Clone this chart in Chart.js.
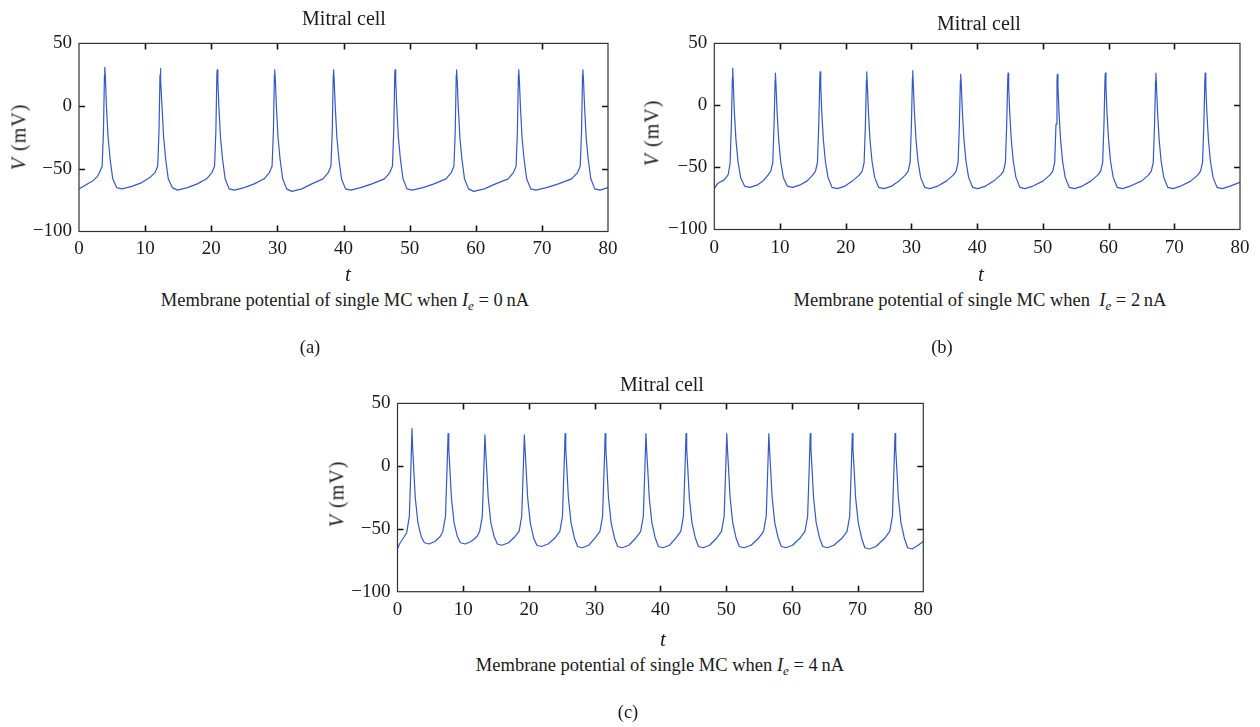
<!DOCTYPE html>
<html lang="en">
<head>
    <meta charset="UTF-8">
    <title>Mitral cell membrane potential</title>
    <style>
        body {
            margin: 0;
            padding: 0;
            width: 1260px;
            height: 727px;
            background: #fff;
            position: relative;
            overflow: hidden;
            font-family: "Liberation Serif", "DejaVu Serif", serif;
            color: #1a1a1a;
        }
        .box { position: absolute; }
        .lbl {
            position: absolute;
            transform: translate(-50%, -50%);
            white-space: nowrap;
            font-size: 18.5px;
        }
        .ttl { font-size: 20px; }
        .ylab { transform: translate(-50%, -50%) rotate(-90deg); font-size: 20px; letter-spacing: 1px; }
        .tt { font-style: italic; font-size: 21px; }
        sub { font-size: 13px; vertical-align: -4px; }
    </style>
</head>
<body>
    <!-- panel (a) -->
    <div class="box" style="left:0px; top:25px; width:625px; height:245px;"><canvas id="chartA"></canvas></div>
    <div class="lbl ttl" style="left:344px; top:18px;">Mitral cell</div>
    <div class="lbl ylab" style="left:19px; top:137px;"><i>V</i> (mV)</div>
    <div class="lbl tt" style="left:348px; top:274px;">t</div>
    <div class="lbl" style="left:345px; top:302px;">Membrane potential of single MC when <i>I</i><sub><i>e</i></sub> = 0&thinsp;nA</div>
    <div class="lbl" style="left:310px; top:347px;">(a)</div>

    <!-- panel (b) -->
    <div class="box" style="left:640px; top:25px; width:620px; height:245px;"><canvas id="chartB"></canvas></div>
    <div class="lbl ttl" style="left:979px; top:23px;">Mitral cell</div>
    <div class="lbl ylab" style="left:652px; top:133px;"><i>V</i> (mV)</div>
    <div class="lbl tt" style="left:981px; top:274px;">t</div>
    <div class="lbl" style="left:980px; top:302px;">Membrane potential of single MC when&nbsp; <i>I</i><sub><i>e</i></sub> = 2&thinsp;nA</div>
    <div class="lbl" style="left:942px; top:347px;">(b)</div>

    <!-- panel (c) -->
    <div class="box" style="left:320px; top:385px; width:640px; height:245px;"><canvas id="chartC"></canvas></div>
    <div class="lbl ttl" style="left:662px; top:384px;">Mitral cell</div>
    <div class="lbl ylab" style="left:337px; top:494px;"><i>V</i> (mV)</div>
    <div class="lbl tt" style="left:663px; top:639px;">t</div>
    <div class="lbl" style="left:660px; top:667px;">Membrane potential of single MC when <i>I</i><sub><i>e</i></sub> = 4&thinsp;nA</div>
    <div class="lbl" style="left:628px; top:712px;">(c)</div>

    <script src="https://cdn.jsdelivr.net/npm/chart.js"></script>
    <script>
        // tick labels shared by all three panels
        var xTicks = [0, 10, 20, 30, 40, 50, 60, 70, 80];
        var yTicks = [-100, -50, 0, 50];

        // (a) Ie = 0 nA
        var timeA = [0, 1, 2, 2.8, 3.1, 3.5, 3.7, 3.85, 3.9, 4.0, 4.15, 4.4, 4.7, 5.1, 5.7, 6.5, 8, 9.5, 10.7, 11.5, 11.9, 12.1, 12.25, 12.3, 12.4, 12.55, 12.8, 13.1, 13.5, 14.1, 14.9, 16.4, 17.9, 19.3, 20.1, 20.5, 20.7, 20.85, 20.9, 21.0, 21.15, 21.4, 21.7, 22.1, 22.7, 23.5, 25, 26.5, 28, 28.8, 29.2, 29.4, 29.55, 29.6, 29.7, 29.85, 30.1, 30.4, 30.8, 31.4, 32.2, 33.7, 35.2, 36.9, 37.7, 38.1, 38.3, 38.45, 38.5, 38.6, 38.75, 39, 39.3, 39.7, 40.3, 41.1, 42.6, 44.3, 46.2, 47, 47.4, 47.6, 47.75, 47.8, 47.9, 48.05, 48.3, 48.6, 49, 49.6, 50.4, 52, 53.7, 55.5, 56.3, 56.7, 56.9, 57.05, 57.1, 57.2, 57.35, 57.6, 57.9, 58.3, 58.9, 59.7, 61.3, 63, 64.9, 65.7, 66.1, 66.3, 66.45, 66.5, 66.6, 66.75, 67, 67.3, 67.7, 68.3, 69.1, 70.7, 72.5, 74.5, 75.4, 75.8, 76, 76.15, 76.2, 76.3, 76.45, 76.7, 77, 77.4, 78, 78.8, 80];
        var voltA = [-66, -63, -60, -56, -53, -48, -20, 25, 31, 22, 0, -25, -42, -58, -65, -66, -64, -61, -57, -53, -48, -20, 25, 30, 20, 0, -25, -42, -58, -65, -67, -65, -62, -58, -53, -48, -20, 25, 29, 20, 0, -25, -42, -58, -66, -67, -65, -62, -58, -53, -48, -20, 25, 29, 20, 0, -25, -42, -58, -66, -68, -66, -62, -58, -53, -48, -20, 25, 29, 20, 0, -25, -42, -58, -66, -67, -65, -62, -58, -53, -48, -20, 25, 29, 20, 0, -25, -42, -58, -66, -67, -65, -62, -58, -53, -48, -20, 25, 29, 20, 0, -25, -42, -58, -66, -68, -66, -62, -58, -53, -48, -20, 25, 29, 20, 0, -25, -42, -58, -66, -67, -65, -62, -58, -53, -48, -20, 25, 29, 20, 0, -25, -42, -58, -66, -67, -65];

        // (b) Ie = 2 nA
        var timeB = [0, 0.5, 1.5, 2.1, 2.4, 2.6, 2.75, 2.8, 2.9, 3.05, 3.3, 3.6, 4, 4.6, 5.4, 6.6, 7.4, 8.2, 8.6, 8.9, 9.1, 9.25, 9.3, 9.4, 9.55, 9.8, 10.1, 10.5, 11.1, 11.9, 13.1, 14.1, 15, 15.4, 15.7, 15.9, 16.05, 16.1, 16.2, 16.35, 16.6, 16.9, 17.3, 17.9, 18.7, 19.9, 21, 22.1, 22.5, 22.8, 23, 23.15, 23.2, 23.3, 23.45, 23.7, 24, 24.4, 25, 25.8, 27, 28.1, 29.1, 29.5, 29.8, 30, 30.15, 30.2, 30.3, 30.45, 30.7, 31, 31.4, 32, 32.8, 34, 35.3, 36.4, 36.8, 37.1, 37.3, 37.45, 37.5, 37.6, 37.75, 38, 38.3, 38.7, 39.3, 40.1, 41.3, 42.5, 43.6, 44, 44.3, 44.5, 44.65, 44.7, 44.8, 44.95, 45.2, 45.5, 45.9, 46.5, 47.3, 48.5, 50, 51.1, 51.5, 51.8, 52, 52.15, 52.2, 52.3, 52.45, 52.7, 53, 53.4, 54, 54.8, 56, 57.3, 58.4, 58.8, 59.1, 59.3, 59.45, 59.5, 59.6, 59.75, 60, 60.3, 60.7, 61.3, 62.1, 63.3, 65, 66.1, 66.5, 66.8, 67, 67.15, 67.2, 67.3, 67.45, 67.7, 68, 68.4, 69, 69.8, 71, 72.5, 73.6, 74, 74.3, 74.5, 74.65, 74.7, 74.8, 74.95, 75.2, 75.5, 75.9, 76.5, 77.3, 78.5, 80];
        var voltB = [-67, -63, -60, -56, -47, -15, 22, 30, 17, -5, -28, -45, -58, -65, -66, -64, -61, -56, -53, -46, -15, 20, 26, 15, -5, -28, -45, -58, -65, -66, -64, -61, -56, -53, -46, -15, 20, 27, 15, -5, -28, -45, -58, -66, -67, -65, -61, -56, -53, -46, -15, 20, 27, 15, -5, -28, -45, -58, -66, -67, -65, -61, -56, -53, -46, -15, 22, 28, 15, -5, -28, -45, -58, -66, -67, -65, -61, -56, -53, -46, -15, 20, 25, 15, -5, -28, -45, -58, -66, -67, -65, -61, -56, -53, -46, -15, 20, 26, 15, -5, -28, -45, -58, -66, -67, -65, -61, -56, -53, -46, -15, 20, 25, 15, -5, -28, -45, -58, -66, -67, -65, -61, -56, -53, -46, -15, 20, 26, 15, -5, -28, -45, -58, -66, -67, -65, -61, -56, -53, -46, -15, 20, 26, 15, -5, -28, -45, -58, -66, -67, -65, -61, -56, -53, -46, -15, 20, 26, 15, -5, -28, -45, -58, -66, -67, -65, -62];

        // (c) Ie = 4 nA
        var timeC = [0, 0.3, 0.8, 1.4, 1.8, 2.05, 2.2, 2.3, 2.5, 2.7, 3.1, 3.6, 4.1, 4.8, 5.7, 6.5, 6.9, 7.3, 7.55, 7.7, 7.8, 8, 8.2, 8.6, 9.1, 9.6, 10.3, 11.2, 12.1, 12.5, 12.9, 13.15, 13.3, 13.4, 13.6, 13.8, 14.2, 14.7, 15.2, 15.9, 16.9, 17.9, 18.5, 18.9, 19.15, 19.3, 19.4, 19.6, 19.8, 20.2, 20.7, 21.2, 21.9, 22.9, 24, 24.7, 25.1, 25.35, 25.5, 25.6, 25.8, 26, 26.4, 26.9, 27.4, 28.1, 29.1, 30.1, 30.8, 31.2, 31.45, 31.6, 31.7, 31.9, 32.1, 32.5, 33, 33.5, 34.2, 35.2, 36.3, 37, 37.4, 37.65, 37.8, 37.9, 38.1, 38.3, 38.7, 39.2, 39.7, 40.4, 41.4, 42.4, 43.1, 43.5, 43.75, 43.9, 44, 44.2, 44.4, 44.8, 45.3, 45.8, 46.5, 47.5, 48.6, 49.3, 49.7, 49.95, 50.1, 50.2, 50.4, 50.6, 51, 51.5, 52, 52.7, 53.8, 55, 55.7, 56.1, 56.35, 56.5, 56.6, 56.8, 57, 57.4, 57.9, 58.4, 59.1, 60.1, 61.3, 62, 62.4, 62.65, 62.8, 62.9, 63.1, 63.3, 63.7, 64.2, 64.7, 65.4, 66.4, 67.7, 68.4, 68.8, 69.05, 69.2, 69.3, 69.5, 69.7, 70.1, 70.6, 71.1, 71.8, 72.8, 74.2, 74.9, 75.3, 75.55, 75.7, 75.8, 76, 76.2, 76.6, 77.1, 77.6, 78.3, 79.2, 80];
        var voltC = [-66, -62, -58, -53, -40, 0, 30, 15, -5, -25, -45, -56, -61, -62, -60, -56, -52, -40, 0, 26, 14, -5, -25, -45, -56, -61, -62, -60, -56, -52, -40, 0, 25, 14, -5, -25, -45, -56, -62, -63, -61, -56, -52, -40, 0, 25, 14, -5, -25, -45, -57, -63, -64, -62, -57, -52, -40, 0, 26, 14, -5, -25, -45, -57, -64, -65, -63, -57, -52, -40, 0, 26, 14, -5, -25, -45, -57, -64, -65, -63, -57, -52, -40, 0, 26, 14, -5, -25, -45, -57, -64, -65, -63, -57, -52, -40, 0, 26, 14, -5, -25, -45, -57, -64, -65, -63, -57, -52, -40, 0, 26, 14, -5, -25, -45, -57, -64, -65, -63, -57, -52, -40, 0, 26, 14, -5, -25, -45, -57, -64, -65, -63, -57, -52, -40, 0, 26, 14, -5, -25, -45, -57, -64, -65, -63, -57, -52, -40, 0, 26, 14, -5, -25, -45, -57, -65, -66, -64, -57, -52, -40, 0, 26, 14, -5, -25, -45, -57, -65, -66, -63, -60];

        var serif = '"Liberation Serif", "DejaVu Serif", serif';

        // box border plus inward tick marks on all four sides (MATLAB style)
        var boxTicks = {
            id: 'boxTicks',
            afterDraw: function(chart) {
                var ctx = chart.ctx, a = chart.chartArea;
                var xs = chart.scales.x, ys = chart.scales.y;
                ctx.save();
                ctx.strokeStyle = '#111';
                ctx.lineWidth = 1.6;
                ctx.beginPath();
                xTicks.slice(1, -1).forEach(function(v) {
                    var px = Math.round(xs.getPixelForValue(v)) + 0.5;
                    ctx.moveTo(px, a.bottom); ctx.lineTo(px, a.bottom - 6);
                    ctx.moveTo(px, a.top); ctx.lineTo(px, a.top + 6);
                });
                yTicks.slice(1, -1).forEach(function(v) {
                    var py = Math.round(ys.getPixelForValue(v)) + 0.5;
                    ctx.moveTo(a.left, py); ctx.lineTo(a.left + 6, py);
                    ctx.moveTo(a.right, py); ctx.lineTo(a.right - 6, py);
                });
                ctx.stroke();
                ctx.strokeStyle = '#333';
                ctx.lineWidth = 1.2;
                ctx.strokeRect(a.left, a.top, a.right - a.left, a.bottom - a.top);
                ctx.restore();
            }
        };

        function makeChart(id, times, volts, lay) {
            var ctx = document.getElementById(id).getContext('2d');
            return new Chart(ctx, {
                type: 'line',
                data: {
                    datasets: [{
                        data: times.map(function(t, i) { return { x: t, y: volts[i] }; }),
                        borderColor: '#3558c4',
                        borderWidth: 1.2,
                        borderJoinStyle: 'round',
                        pointRadius: 0,
                        tension: 0,
                        fill: false
                    }]
                },
                options: {
                    responsive: true,
                    maintainAspectRatio: false,
                    devicePixelRatio: 1,
                    animation: false,
                    layout: { padding: { top: lay.top, right: lay.right, bottom: 0, left: 0 } },
                    plugins: { legend: { display: false }, tooltip: { enabled: false } },
                    scales: {
                        x: {
                            type: 'linear', min: 0, max: 80,
                            afterBuildTicks: function(s) { s.ticks = xTicks.map(function(v) { return { value: v }; }); },
                            afterFit: function(s) { s.height = lay.xh; },
                            grid: { display: false, drawTicks: false, tickLength: 0 },
                            border: { display: false },
                            ticks: { padding: lay.xpad, color: '#1a1a1a', font: { family: serif, size: 19 }, maxRotation: 0 }
                        },
                        y: {
                            min: -100, max: 50,
                            afterBuildTicks: function(s) { s.ticks = yTicks.map(function(v) { return { value: v }; }); },
                            afterFit: function(s) { s.width = lay.yw; },
                            grid: { display: false, drawTicks: false, tickLength: 0 },
                            border: { display: false },
                            ticks: {
                                padding: 7, color: '#1a1a1a', font: { family: serif, size: 19 },
                                callback: function(v) { return String(v).replace('-', '\u2212'); }
                            }
                        }
                    }
                },
                plugins: [boxTicks]
            });
        }

        makeChart('chartA', timeA, voltA, { top: 10, right: 17, xh: 38.5, yw: 79, xpad: 6.5 });
        makeChart('chartB', timeB, voltB, { top: 11.5, right: 20, xh: 40.5, yw: 74.3, xpad: 7 });
        makeChart('chartC', timeC, voltC, { top: 12.3, right: 36.7, xh: 38.3, yw: 77.5, xpad: 7 });
    </script>
</body>
</html>
